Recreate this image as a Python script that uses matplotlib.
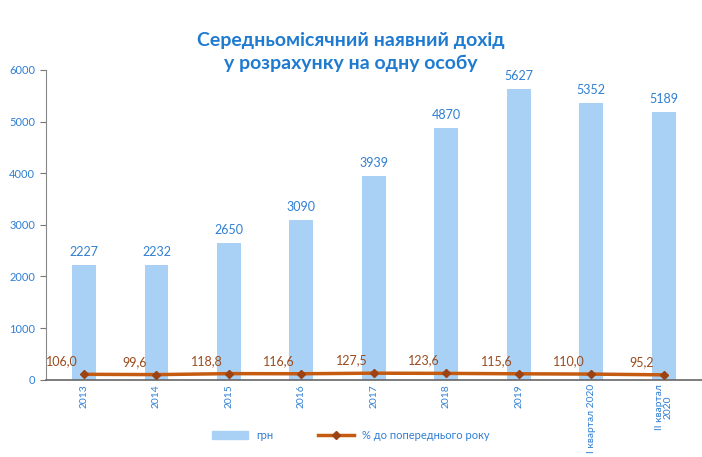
import numpy as np
import matplotlib.pyplot as plt
from matplotlib.lines import Line2D
from matplotlib.patches import Patch

plt.rcParams['font.family'] = ['Lato', 'DejaVu Sans']

# ДАНІ
categories = ["2013", "2014", "2015", "2016", "2017", "2018", "2019",
              "I квартал 2020", "II квартал\n2020"]
income_uah = [2227, 2232, 2650, 3090, 3939, 4870, 5627, 5352, 5189]
pct_prev_year = [106.0, 99.6, 118.8, 116.6, 127.5, 123.6, 115.6, 110.0, 95.2]

BLUE_TXT = "#2f7fd3"
BAR_CLR = "#a9d1f5"
LINE_CLR = "#c55a11"
MARK_CLR = "#9c4314"
LBL_CLR = "#9a4a1c"

fig = plt.figure(figsize=(7.02, 4.57), dpi=100)
ax = fig.add_axes([0.065, 0.169, 0.935, 0.678])

x = np.arange(len(categories))
ax.bar(x, income_uah, width=0.33, color=BAR_CLR, zorder=2)
ax.plot(x, pct_prev_year, color=LINE_CLR, lw=2.5, marker="D", ms=4,
        mfc=MARK_CLR, mec=MARK_CLR, zorder=3)

# підписи стовпців
for xi, v in zip(x, income_uah):
    ax.annotate(str(v), (xi, v), xytext=(0, 5), textcoords="offset points",
                ha="center", va="bottom", color=BLUE_TXT, fontsize=9)

# підписи лінії
for xi, v in zip(x, pct_prev_year):
    ax.annotate(f"{v:.1f}".replace(".", ","), (xi, v), xytext=(-16, 5),
                textcoords="offset points", ha="center", va="bottom",
                color=LBL_CLR, fontsize=9)

ax.set_xlim(-0.53, len(categories) - 0.47)
ax.set_ylim(0, 6000)
ax.set_yticks(np.arange(0, 6001, 1000))
ax.tick_params(axis="y", colors="#777777", labelcolor=BLUE_TXT, labelsize=8,
               length=4, direction="out")
ax.set_xticks(x)
ax.set_xticklabels(categories, rotation=90, color=BLUE_TXT, fontsize=7.4,
                   va="top", ha="center", linespacing=1.0)
ax.tick_params(axis="x", length=0, pad=3)

for s in ["top", "right"]:
    ax.spines[s].set_visible(False)
ax.spines["left"].set_color("#888888")
ax.spines["bottom"].set_color("#666666")
ax.spines["bottom"].set_linewidth(1.2)

fig.text(0.5, 0.886, "Середньомісячний наявний дохід\nу розрахунку на одну особу",
         ha="center", va="center", color="#1f7bd0", fontsize=14,
         fontweight="bold", linespacing=1.4)

handles = [Patch(color=BAR_CLR, label="грн"),
           Line2D([0], [0], color=LINE_CLR, lw=2.5, marker="D", ms=4,
                  mfc=MARK_CLR, mec=MARK_CLR, label="% до попереднього року")]
leg = fig.legend(handles=handles, loc="center", bbox_to_anchor=(0.5, 0.048),
                 ncol=2, frameon=False, fontsize=8, handlelength=3.2,
                 columnspacing=4)
for t in leg.get_texts():
    t.set_color(BLUE_TXT)

fig.savefig("out.png", dpi=100)
